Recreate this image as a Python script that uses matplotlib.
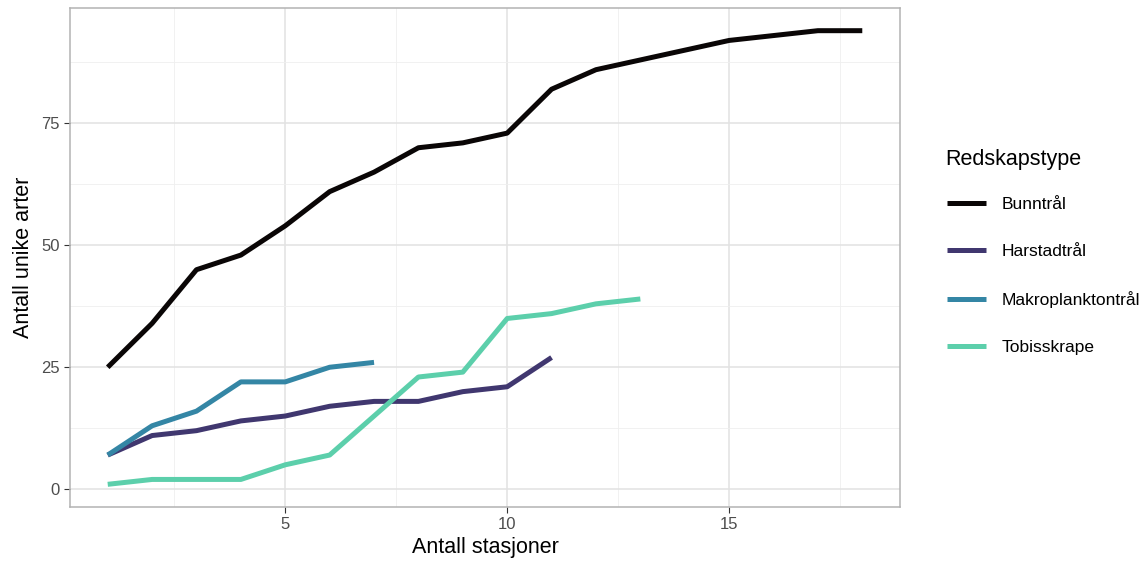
import matplotlib.pyplot as plt
from matplotlib.ticker import MultipleLocator

# species accumulation per gear type
bunntral_x = list(range(1, 19))
bunntral = [25, 34, 45, 48, 54, 61, 65, 70, 71, 73, 82, 86, 88, 90, 92, 93, 94, 94]

harstad_x = list(range(1, 12))
harstad = [7, 11, 12, 14, 15, 17, 18, 18, 20, 21, 27]

makro_x = list(range(1, 8))
makro = [7, 13, 16, 22, 22, 25, 26]

tobis_x = list(range(1, 14))
tobis = [1, 2, 2, 2, 5, 7, 15, 23, 24, 35, 36, 38, 39]

labels = ['Bunntrål', 'Harstadtrål', 'Makroplanktontrål', 'Tobisskrape']
colors = ['#0a0606', '#40376f', '#3486a5', '#5ccfab']


def main():
    plt.rcParams['font.family'] = ['Liberation Sans', 'DejaVu Sans']
    fig = plt.figure(figsize=(11.43, 5.69), dpi=100)
    ax = fig.add_axes([70 / 1143, 1 - 507 / 569, 830 / 1143, 499 / 569])

    series = [(bunntral_x, bunntral), (harstad_x, harstad), (makro_x, makro), (tobis_x, tobis)]
    for (xs, ys), lab, col in zip(series, labels, colors):
        ax.plot(xs, ys, color=col, linewidth=3.6, label=lab, solid_capstyle='butt',
                solid_joinstyle='round')

    ax.set_xlim(1 - 0.85, 18 + 0.85)
    ax.set_ylim(1 - 4.65, 94 + 4.65)
    ax.xaxis.set_minor_locator(MultipleLocator(2.5))
    ax.yaxis.set_minor_locator(MultipleLocator(12.5))
    ax.set_xticks([5, 10, 15])
    ax.set_yticks([0, 25, 50, 75])

    ax.grid(which='major', color='#e2e2e2', linewidth=1.1)
    ax.grid(which='minor', color='#efefef', linewidth=0.6)
    ax.set_axisbelow(True)
    for sp in ax.spines.values():
        sp.set_color('#b3b3b3')
        sp.set_linewidth(1.1)
    ax.tick_params(which='major', length=4, color='#333333', labelcolor='#4d4d4d', labelsize=12)
    ax.tick_params(which='minor', length=0)

    ax.set_xlabel('Antall stasjoner', fontsize=15.5, labelpad=3)
    ax.set_ylabel('Antall unike arter', fontsize=15.5, labelpad=5)

    # legend title drawn separately so the gap to the first key matches
    fig.text(945 / 1143, 1 - 160 / 569, 'Redskapstype', fontsize=15.5, va='center', ha='left')
    ax.legend(loc='upper left', bbox_to_anchor=(940 / 1143, 1 - 190 / 569),
              bbox_transform=fig.transFigure, frameon=False, fontsize=12.5,
              labelspacing=1.83, handlelength=2.25, handletextpad=0.9, borderaxespad=0)

    fig.savefig('out.png', dpi=100)


if __name__ == "__main__":
    main()
